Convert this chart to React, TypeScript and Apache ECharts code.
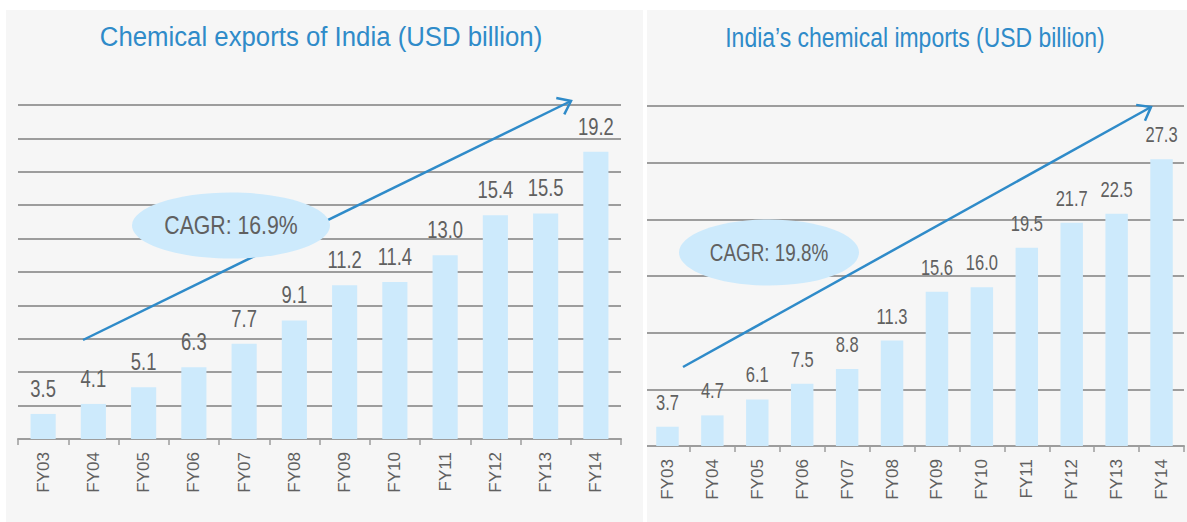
import React, { useEffect, useRef } from 'react';
import * as echarts from 'echarts';

const categories = ['FY03', 'FY04', 'FY05', 'FY06', 'FY07', 'FY08', 'FY09', 'FY10', 'FY11', 'FY12', 'FY13', 'FY14'];
const exportValues = [3.5, 4.1, 5.1, 6.3, 7.7, 9.1, 11.2, 11.4, 13.0, 15.4, 15.5, 19.2];
const importValues = [3.7, 4.7, 6.1, 7.5, 8.8, 11.3, 15.6, 16.0, 19.5, 21.7, 22.5, 27.3];
const exportTitle = 'Chemical exports of India (USD billion)';
const importTitle = 'India\u2019s chemical imports (USD billion)';
const exportCagr = 'CAGR: 16.9%';
const importCagr = 'CAGR: 19.8%';
const exportScale = { min: 2, max: 22, interval: 2 };
const importScale = { min: 2, max: 32, interval: 5 };

const BAR = '#cdeafc';
const BLUE = '#2f8bc9';
const GRAY = '#606060';
const GRID = '#9d9d9d';
const FONT = "'Liberation Sans', Arial, sans-serif";

function arrow(x1: number, y1: number, x2: number, y2: number) {
  const ang = Math.atan2(y2 - y1, x2 - x1);
  const L = 15;
  const a = 0.65;
  const p1 = [x2 - L * Math.cos(ang - a), y2 - L * Math.sin(ang - a)];
  const p2 = [x2 - L * Math.cos(ang + a), y2 - L * Math.sin(ang + a)];
  return [
    { type: 'line', z: 10, shape: { x1, y1, x2, y2 }, style: { stroke: BLUE, lineWidth: 2.5 } },
    { type: 'polyline', z: 10, shape: { points: [p1, [x2, y2], p2] }, style: { stroke: BLUE, lineWidth: 2.5, fill: null } },
  ];
}

function scaledText(x: number, y: number, text: string, size: number, sx: number, color: string, vAlign = 'middle', z = 12) {
  return {
    type: 'text', z, x, y, scaleX: sx,
    style: { text, fill: color, font: `${size}px ${FONT}`, align: 'center', verticalAlign: vAlign },
  };
}

function bubble(cx: number, cy: number, rx: number, ry: number, text: string, size: number, sx: number) {
  return [
    { type: 'ellipse', z: 11, shape: { cx, cy, rx, ry }, style: { fill: BAR } },
    scaledText(cx, cy, text, size, sx, GRAY),
  ];
}

function makeXAxis(gridIndex: number) {
  return {
    type: 'category', gridIndex, data: categories,
    axisLine: { lineStyle: { color: GRID, width: 2 } },
    axisTick: { show: true, length: 6, lineStyle: { color: GRID, width: 1.5 } },
    axisLabel: { rotate: 90, margin: 13, color: GRAY, fontSize: 17, fontFamily: FONT },
  };
}

function makeYAxis(gridIndex: number, s: { min: number; max: number; interval: number }) {
  return {
    type: 'value', gridIndex, min: s.min, max: s.max, interval: s.interval,
    axisLine: { show: false }, axisTick: { show: false }, axisLabel: { show: false },
    splitLine: { show: true, lineStyle: { color: GRID, width: 2 } },
  };
}

function makeSeries(idx: number, data: number[]) {
  return {
    type: 'bar', xAxisIndex: idx, yAxisIndex: idx, data, barWidth: '50%',
    itemStyle: { color: BAR },
  };
}

export default function App() {
  const ref = useRef<HTMLDivElement>(null);
  useEffect(() => {
    const chart = echarts.init(ref.current!, null, { renderer: 'svg' });
    const baseGraphic: any[] = [
      { type: 'rect', z: 1, shape: { x: 0, y: 0, width: 1187, height: 10 }, style: { fill: '#ffffff' } },
      { type: 'rect', z: 1, shape: { x: 0, y: 0, width: 6, height: 522 }, style: { fill: '#ffffff' } },
      { type: 'rect', z: 1, shape: { x: 643, y: 0, width: 4, height: 522 }, style: { fill: '#ffffff' } },
      scaledText(321, 37, exportTitle, 27, 0.955, BLUE),
      scaledText(915, 37, importTitle, 27, 0.85, BLUE),
      ...arrow(83, 340, 571, 101),
      ...arrow(683, 367, 1151, 107),
      ...bubble(231, 225.5, 99, 33, exportCagr, 25, 0.85),
      ...bubble(769, 252.5, 90, 33, importCagr, 23, 0.82),
    ];
    chart.setOption({
      animation: false,
      backgroundColor: '#f6f6f6',
      grid: [
        { left: 18, top: 105, width: 603, height: 334 },
        { left: 645, top: 106, width: 539, height: 340 },
      ],
      xAxis: [makeXAxis(0), makeXAxis(1)],
      yAxis: [makeYAxis(0, exportScale), makeYAxis(1, importScale)],
      series: [makeSeries(0, exportValues), makeSeries(1, importValues)],
      graphic: baseGraphic,
    });
    const labels: any[] = [];
    const addLabels = (gridIndex: number, values: number[], size: number, sx: number) => {
      values.forEach((v, i) => {
        const pt = chart.convertToPixel({ gridIndex } as any, [categories[i], v]) as number[];
        labels.push(scaledText(pt[0], pt[1] - 14, v.toFixed(1), size, sx, GRAY, 'bottom', 5));
      });
    };
    addLabels(0, exportValues, 23, 0.8);
    addLabels(1, importValues, 22, 0.75);
    chart.setOption({ graphic: [...baseGraphic, ...labels] });
    return () => chart.dispose();
  }, []);
  return <div ref={ref} style={{ position: 'absolute', left: 0, top: 0, width: 1187, height: 522 }} />;
}
